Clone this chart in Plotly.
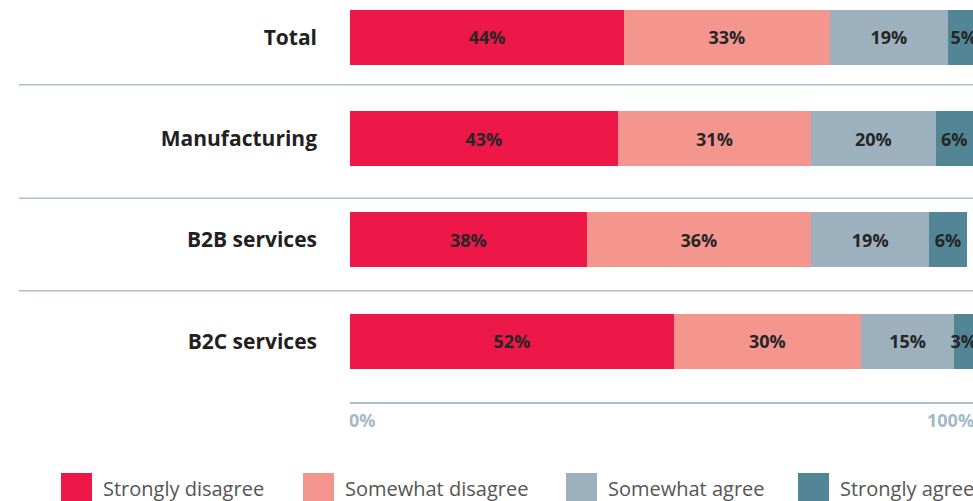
import plotly.graph_objects as go

categories = ["Total", "Manufacturing", "B2B services", "B2C services"]
series_names = ["Strongly disagree", "Somewhat disagree", "Somewhat agree", "Strongly agree"]
strongly_disagree = [44, 43, 38, 52]
somewhat_disagree = [33, 31, 36, 30]
somewhat_agree = [19, 20, 19, 15]
strongly_agree = [5, 6, 6, 3]
x_tick_values = [0, 100]
x_tick_labels = ["0%", "100%"]

series_values = [strongly_disagree, somewhat_disagree, somewhat_agree, strongly_agree]
colors = ["#ee1848", "#f4968d", "#9cb1bd", "#528696"]

W, H = 973, 501
ML, MR, MT, MB = 350, 0, 0, 99
PW, PH = W - ML - MR, H - MT - MB
line_col = "#a9c0cf"
X_MAX = 100.0

fig = go.Figure()
for name, vals, col in zip(series_names, series_values, colors):
    fig.add_trace(go.Bar(
        name=name, orientation="h", y=categories, x=vals,
        text=[f"{v}%" for v in vals], textposition="inside", textangle=0,
        insidetextanchor="middle", constraintext="none",
        textfont=dict(family="Open Sans", size=18, color="#262626", weight=700),
        marker=dict(color=col, line=dict(width=0)), width=0.543,
        showlegend=False, hoverinfo="skip",
    ))

def px_to_paper_x(px):
    return (px - ML) / PW

def py_to_paper_y(py):
    return (H - MB - py) / PH

shapes = []
# separators between categories
for yv in [0.466, 1.588, 2.501]:
    shapes.append(dict(type="line", xref="paper", yref="y", x0=px_to_paper_x(19), x1=1.0,
                       y0=yv, y1=yv, line=dict(color=line_col, width=1.5), layer="below"))

annotations = []
for tv, tl in zip(x_tick_values, x_tick_labels):
    annotations.append(dict(x=tv / X_MAX, y=py_to_paper_y(420), xref="paper", yref="paper", text=tl,
                            showarrow=False, xanchor="left" if tv == 0 else "right",
                            xshift=-3 if tv == 0 else 3,
                            yanchor="middle",
                            font=dict(family="Open Sans", size=18, color="#a3b9c7", weight=700)))

# custom legend
sq_x = [61, 303, 566, 798]
for name, col, sx in zip(series_names, colors, sq_x):
    shapes.append(dict(type="rect", xref="paper", yref="paper",
                       x0=px_to_paper_x(sx), x1=px_to_paper_x(sx + 31),
                       y0=py_to_paper_y(473), y1=py_to_paper_y(504),
                       fillcolor=col, line=dict(width=0)))
    annotations.append(dict(x=px_to_paper_x(sx + 40), y=py_to_paper_y(488), xref="paper", yref="paper",
                            text=name, showarrow=False, xanchor="left", yanchor="middle",
                            font=dict(family="Open Sans", size=20, color="#555555")))

fig.update_layout(
    width=W, height=H, barmode="stack",
    margin=dict(l=ML, r=MR, t=MT, b=MB, pad=0),
    plot_bgcolor="white", paper_bgcolor="white",
    xaxis=dict(range=[0, X_MAX], showgrid=False, zeroline=False, showticklabels=False,
               showline=True, linecolor=line_col, linewidth=1.5, fixedrange=True),
    yaxis=dict(type="category", range=[3.6, -0.37], showgrid=False, zeroline=False,
               ticks="", ticklabelstandoff=32, showline=False,
               tickfont=dict(family="Open Sans", size=21, color="#231f20", weight=700)),
    shapes=shapes, annotations=annotations,
)

fig.write_html("out.html")
